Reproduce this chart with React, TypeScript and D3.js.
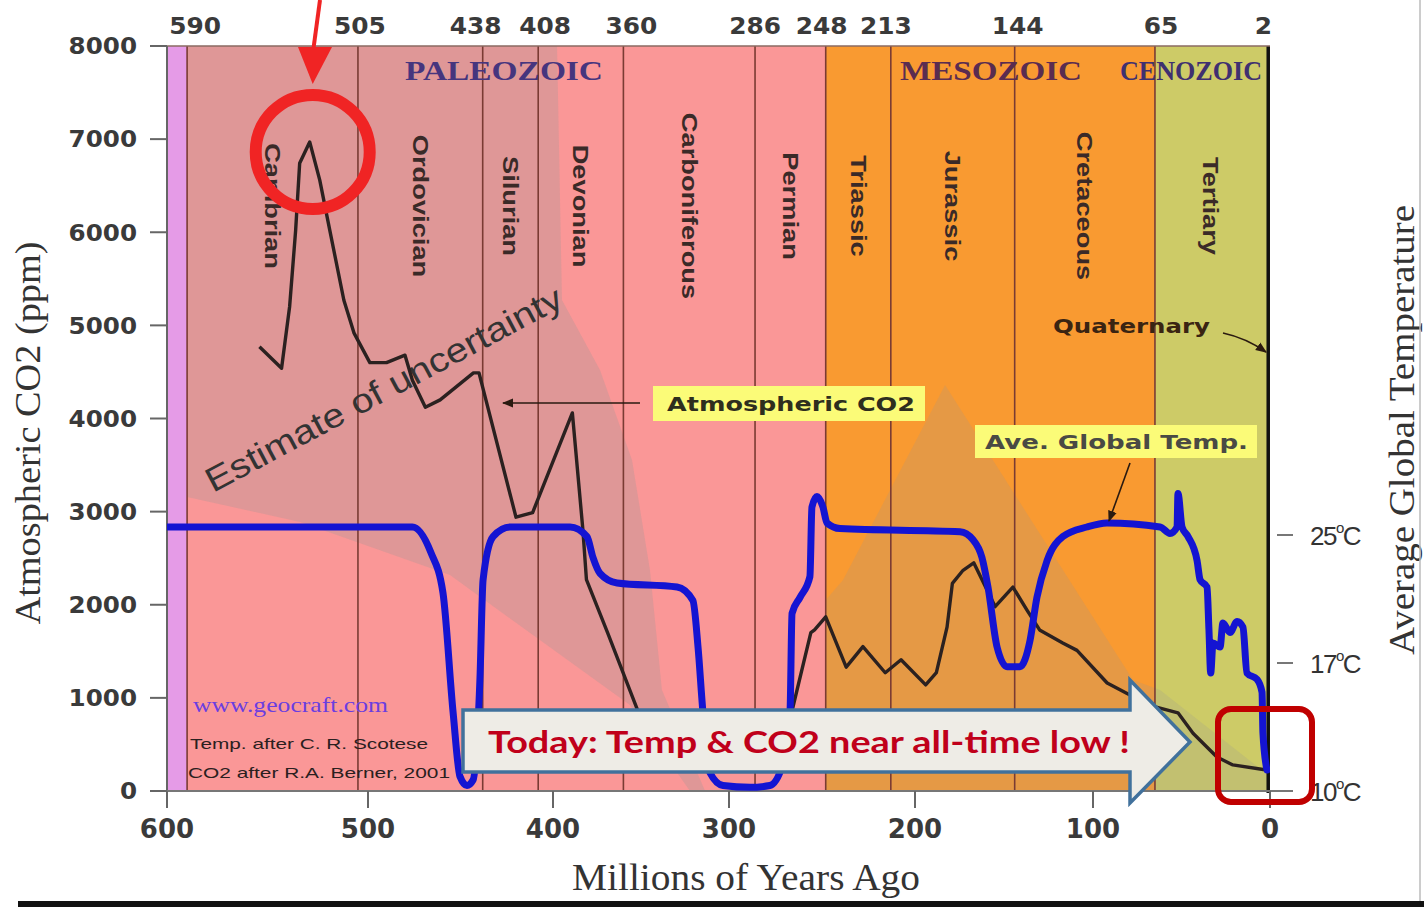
import React from "react";
import * as d3 from "d3";

// ---------- data ----------
const axisAges = [600, 500, 400, 300, 200, 100, 0];
const ppmTicks = [0, 1000, 2000, 3000, 4000, 5000, 6000, 7000, 8000];
const tempTicks = [10, 17, 25];
const boundaryAges = [590, 505, 438, 408, 360, 286, 248, 213, 144, 65, 2];
const periodNames = ["Cambrian", "Ordovician", "Silurian", "Devonian", "Carboniferous", "Permian", "Triassic", "Jurassic", "Cretaceous", "Tertiary"];
const eraNames = ["PALEOZOIC", "MESOZOIC", "CENOZOIC"];
const bgFrom = [600, 590, 248, 65];
const bgTo = [590, 248, 65, 0];

const co2Ages = [554, 543, 539, 536, 534, 529, 524, 519, 512, 507, 499, 490, 480, 476, 469, 461, 443, 440, 420, 411, 389, 383, 381, 369, 352, 340, 328, 310, 294, 280, 266, 256, 254, 248, 237, 228, 216, 207.5, 194, 188, 182, 179, 173, 167, 155, 145, 137, 130, 117, 109, 92, 81, 68, 52, 43.5, 30, 21, 2];
const co2Ppm = [4770, 4540, 5200, 6020, 6740, 6970, 6560, 6020, 5270, 4920, 4600, 4600, 4680, 4410, 4120, 4200, 4490, 4490, 2940, 2990, 4060, 2800, 2270, 1700, 870, 420, 280, 220, 220, 280, 870, 1700, 1730, 1870, 1330, 1550, 1270, 1410, 1140, 1270, 1760, 2230, 2370, 2450, 1980, 2190, 1940, 1730, 1590, 1510, 1160, 1050, 920, 840, 620, 365, 280, 225];

const tempAges = [600, 476, 466, 459.5, 454, 450.3, 446.5, 443.2, 439.5, 437.8, 432.4, 423.2, 390.3, 380.7, 377.3, 373.3, 363.6, 329.5, 320.5, 317.6, 314.8, 310.8, 303.4, 288.7, 278, 271, 267.2, 266.1, 261.8, 256.5, 255.4, 252.7, 249.5, 247.3, 240.3, 174.7, 167.4, 162.4, 159, 153.9, 148.3, 141, 135.4, 131.5, 125.8, 116.9, 103.4, 92.1, 62.1, 56.5, 52.5, 52, 49.7, 46.3, 41.2, 39.5, 35.6, 34.5, 33.5, 32.2, 28.2, 26.6, 22.6, 18.6, 15.3, 13, 7.3, 4.5, 4, 1.7];
const tempC = [25.5, 25.5, 23.9, 21.4, 14.3, 10.8, 10.3, 10.6, 16.1, 22.2, 24.9, 25.5, 25.5, 24.9, 23.6, 22.6, 22.0, 21.75, 20.9, 18.0, 14.3, 11.0, 10.3, 10.2, 10.3, 11.5, 14.3, 20.1, 21.1, 22.4, 26.75, 27.4, 26.75, 25.75, 25.4, 25.2, 24.7, 23.6, 21.75, 18.0, 16.8, 16.8, 18.4, 21.1, 23.4, 24.9, 25.5, 25.75, 25.5, 25.1, 25.5, 27.6, 25.5, 24.9, 23.4, 22.2, 21.75, 19.1, 16.45, 18.25, 18.0, 19.5, 18.9, 19.6, 19.25, 16.45, 16.1, 15.4, 13.2, 11.15];

// uncertainty envelopes (age, ppm) polygons
const paleoBandAges = [590, 397.7, 394.9, 373.3, 355.1, 344.9, 338.1, 313.6, 322.2, 356.3, 455.7, 533.8, 590];
const paleoBandPpm = [8000, 8000, 5272, 4521, 3554, 2373, 1085, 0, 0, 923, 2319, 2889, 3157];
const mesoBandAges = [248, 238.7, 183.1, 77.4, 62.1, 1.1, 1.1, 248];
const mesoBandPpm = [2051, 2266, 4360, 1192, 1085, 172, 0, 0];

// ---------- component ----------
export default function App() {
  const W = 1424, H = 907;
  const x = d3.scaleLinear().domain(axisAges).range([167, 368, 553, 729, 915, 1093, 1270]);
  const y = d3.scaleLinear().domain([0, 8000]).range([791, 46]);
  const yT = d3.scaleLinear().domain(tempTicks).range([791, 663, 535]);
  const left = x(600), right = x(0), top = y(8000), bottom = y(0);

  const bgColors = ["#e59be7", "#fa9797", "#f99a31", "#cdcb67"];
  const numFont = "'DejaVu Sans', Verdana, sans-serif";
  const serif = "'Liberation Serif', 'Times New Roman', serif";
  const sans = "'Liberation Sans', Arial, sans-serif";

  const co2Line = d3.line<number>().x((_, i) => x(co2Ages[i])).y((d) => y(d))(co2Ppm) || "";
  const tempLine = d3.line<number>().curve(d3.curveMonotoneX).x((_, i) => x(tempAges[i])).y((d) => yT(d))(tempC) || "";
  const poly = (ages: number[], vals: number[]) => d3.line<number>().x((_, i) => x(ages[i])).y((d) => y(d))(vals) + "Z";

  const peakIdx = co2Ppm.indexOf(d3.max(co2Ppm) as number);
  const pcx = x(co2Ages[peakIdx]) + 3, pcy = y(co2Ppm[peakIdx]) + 10;

  const periodCenters = periodNames.map((_, i) => (x(boundaryAges[i]) + x(boundaryAges[i + 1])) / 2);
  const topLabelShift = [8, 2, -7, 7, 8, 0, -4, -5, 3, 6, -3];
  const eraX = [504, 991, 1191];
  const eraLen = [198, 182, 142];
  const eraColors = ["#46357e", "#5a2c50", "#3f3070"];

  return (
    <svg width={W} height={H} style={{ position: "absolute", left: 0, top: 0, background: "#fff" }}>
      <defs>
        <clipPath id="plot"><rect x={left} y={top} width={right - left} height={bottom - top} /></clipPath>
        <marker id="ah" viewBox="0 0 10 10" refX="9" refY="5" markerWidth="7" markerHeight="7" orient="auto-start-reverse">
          <path d="M0,1 L10,5 L0,9 Z" fill="#2a1a10" />
        </marker>
      </defs>

      {/* backgrounds */}
      {bgFrom.map((a, i) => (
        <rect key={i} x={x(a)} y={top} width={x(bgTo[i]) - x(a)} height={bottom - top} fill={bgColors[i]} />
      ))}
      <g clipPath="url(#plot)">
        <path d={poly(paleoBandAges, paleoBandPpm)} fill="#969696" fillOpacity={0.27} />
        <path d={poly(mesoBandAges, mesoBandPpm)} fill="#969696" fillOpacity={0.2} />
      </g>

      {/* period boundaries */}
      {boundaryAges.slice(0, -1).map((a) => (
        <line key={a} x1={x(a)} x2={x(a)} y1={top} y2={bottom} stroke="#7a3b33" strokeWidth={1.6} />
      ))}
      <line x1={x(1)} x2={x(1)} y1={top} y2={bottom + 2} stroke="#111" strokeWidth={3.5} />
      <line x1={left} x2={right} y1={top} y2={top} stroke="#8a6a62" strokeWidth={1.6} />

      {/* axes */}
      <line x1={left} x2={left} y1={top} y2={bottom + 17} stroke="#666" strokeWidth={2} />
      <line x1={left - 17} x2={right + 23} y1={bottom} y2={bottom} stroke="#777" strokeWidth={2} />
      {ppmTicks.map((t) => (
        <g key={t}>
          <line x1={left - 17} x2={left} y1={y(t)} y2={y(t)} stroke="#666" strokeWidth={2} />
          <text x={left - 30} y={y(t)} dy="0.36em" textAnchor="end" fontFamily={numFont} fontWeight="bold" fontSize={23} fill="#3a3a3a" transform={`translate(${left - 30},0) scale(1.07,1) translate(${-(left - 30)},0)`}>{t}</text>
        </g>
      ))}
      {axisAges.map((a) => (
        <g key={a}>
          <line x1={x(a)} x2={x(a)} y1={bottom} y2={bottom + 17} stroke="#666" strokeWidth={2} />
          <text x={x(a)} y={bottom + 47} textAnchor="middle" fontFamily={numFont} fontWeight="bold" fontSize={26} fill="#3a3a3a">{a}</text>
        </g>
      ))}
      {boundaryAges.map((a, i) => (
        <text key={a} x={0} y={0} textAnchor="middle" fontFamily={numFont} fontWeight="bold" fontSize={23} fill="#3a3a3a"
          transform={`translate(${x(a) + topLabelShift[i]},${top - 12}) scale(1.08,1)`}>{a}</text>
      ))}
      {tempTicks.map((t) => (
        <g key={t}>
          <line x1={right + 7} x2={right + 23} y1={yT(t)} y2={yT(t)} stroke="#777" strokeWidth={2} />
          <text x={right + 40} y={yT(t)} dy="0.4em" fontFamily={sans} fontSize={26} fill="#333" letterSpacing={-1.5}>
            {t}<tspan dy={-12} fontSize={15}>o</tspan><tspan dy={12}>C</tspan>
          </text>
        </g>
      ))}

      {/* axis titles */}
      <text transform={`translate(40,433) rotate(-90)`} textAnchor="middle" fontFamily={serif} fontSize={35} fill="#333" textLength={383} lengthAdjust="spacingAndGlyphs">Atmospheric CO2 (ppm)</text>
      <text transform={`translate(1414,430) rotate(-90)`} textAnchor="middle" fontFamily={serif} fontSize={35} fill="#333" textLength={450} lengthAdjust="spacingAndGlyphs">Average Global Temperature</text>
      <text x={746} y={890} textAnchor="middle" fontFamily={serif} fontSize={38} fill="#333" textLength={348} lengthAdjust="spacingAndGlyphs">Millions of Years Ago</text>

      {/* era + period labels */}
      {eraNames.map((n, i) => (
        <text key={n} x={eraX[i] - eraLen[i] / 2} y={80} fontFamily={serif} fontWeight="bold" fontSize={28} fill={eraColors[i]} textLength={eraLen[i]} lengthAdjust="spacingAndGlyphs">{n}</text>
      ))}
      {periodNames.map((n, i) => (
        <text key={n} x={0} y={0} dy="0.35em" textAnchor="middle" fontFamily={sans} fontWeight="bold" fontSize={22} fill="#3a2a28"
          transform={`translate(${periodCenters[i]},206) rotate(90) scale(1.24,1)`}>{n}</text>
      ))}

      <text transform="translate(213,493) rotate(-28)" fontFamily={sans} fontSize={34} fill="#333" textLength={399} lengthAdjust="spacingAndGlyphs">Estimate of uncertainty</text>

      {/* credits */}
      <text x={193} y={712} fontFamily={serif} fontSize={21} fill="#6a3ee0" textLength={195} lengthAdjust="spacingAndGlyphs">www.geocraft.com</text>
      <text x={190} y={749} fontFamily={sans} fontSize={15} fill="#2a2020" textLength={238} lengthAdjust="spacingAndGlyphs">Temp. after C. R. Scotese</text>
      <text x={188} y={778} fontFamily={sans} fontSize={15} fill="#2a2020" textLength={262} lengthAdjust="spacingAndGlyphs">CO2 after R.A. Berner, 2001</text>

      {/* series */}
      <g clipPath="url(#plot)">
        <path d={co2Line} fill="none" stroke="#2b2120" strokeWidth={3.4} strokeLinejoin="round" />
        <path d={tempLine} fill="none" stroke="#1414d2" strokeWidth={7} strokeLinejoin="round" strokeLinecap="round" />
      </g>

      {/* callouts */}
      <rect x={653} y={386} width={272} height={35} fill="#fbfb78" />
      <text x={667} y={404} dy="0.36em" fontFamily={numFont} fontWeight="bold" fontSize={19} fill="#2e2e1e" textLength={248} lengthAdjust="spacingAndGlyphs">Atmospheric CO2</text>
      <line x1={640} y1={403} x2={503} y2={403} stroke="#2a1a10" strokeWidth={1.6} markerEnd="url(#ah)" />
      <rect x={975} y={425} width={282} height={33} fill="#fbfb78" />
      <text x={985} y={442} dy="0.36em" fontFamily={numFont} fontWeight="bold" fontSize={19} fill="#4a4a44" textLength={263} lengthAdjust="spacingAndGlyphs">Ave. Global Temp.</text>
      <line x1={1130} y1={463} x2={1109} y2={521} stroke="#2a1a10" strokeWidth={1.6} markerEnd="url(#ah)" />
      <text x={1053} y={326} dy="0.36em" fontFamily={numFont} fontWeight="bold" fontSize={19} fill="#3a2412" textLength={157} lengthAdjust="spacingAndGlyphs">Quaternary</text>
      <path d="M1223,333 Q1246,338 1266,352" fill="none" stroke="#2a1a10" strokeWidth={1.6} markerEnd="url(#ah)" />

      {/* Today arrow */}
      <path d="M463,710 L1130,710 L1130,680 L1190,742 L1130,803 L1130,772 L463,772 Z" fill="#eeece6" stroke="#41719c" strokeWidth={3.5} strokeLinejoin="miter" />
      <text x={488} y={753} fontFamily="Lato, 'Open Sans', sans-serif" fontWeight="bold" fontSize={31} fill="#c0001a" textLength={642} lengthAdjust="spacingAndGlyphs">Today: Temp &amp; CO2 near all-time low !</text>

      <rect x={x(0) - 52} y={709} width={94} height={93} rx={13} fill="none" stroke="#c00000" strokeWidth={6} />

      {/* peak highlight */}
      <circle cx={pcx} cy={pcy} r={57} fill="none" stroke="#f02424" strokeWidth={12} />
      <line x1={320} y1={0} x2={313} y2={52} stroke="#f02424" strokeWidth={4} />
      <path d={`M298,47 L332,47 L${pcx},84 Z`} fill="#f02424" />

      {/* frame bits */}
      <line x1={1420} x2={1420} y1={0} y2={901} stroke="#bbb" strokeWidth={1.5} />
      <rect x={18} y={901} width={W - 18} height={6} fill="#111" />
    </svg>
  );
}
